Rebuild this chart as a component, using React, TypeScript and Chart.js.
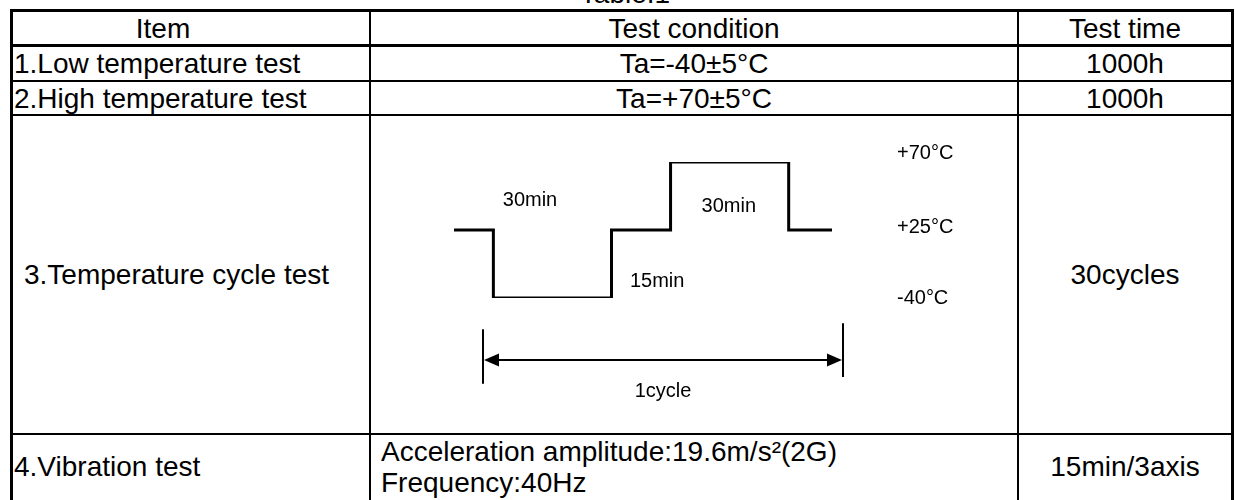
import React, { useEffect, useRef } from "react";
import { Chart, registerables } from "chart.js";

Chart.register(...registerables);

// ---------------- table content ----------------
const tableTitle = "Table.1";
const headers = ["Item", "Test condition", "Test time"];
const items = [
  "1.Low temperature test",
  "2.High temperature test",
  "3.Temperature cycle test",
  "4.Vibration test",
];
const conditions = [
  "Ta=-40±5°C",
  "Ta=+70±5°C",
  "",
  "Acceleration amplitude:19.6m/s²(2G)\nFrequency:40Hz",
];
const testTimes = ["1000h", "1000h", "30cycles", "15min/3axis"];

// ---------------- temperature cycle diagram data ----------------
const tempLevels = [-40, 25, 70]; // °C, drawn as evenly spaced levels
const tempLabels = ["-40°C", "+25°C", "+70°C"];
const tempLabelLevels = [-0.01, 1.04, 2.12];
const tempLabelTime = 102.5;
const stepTimes = [-10, 0, 30, 45, 75, 86]; // minutes: temperature changes to stepTemps[i] at stepTimes[i]
const stepTemps = [25, -40, 25, 70, 25, 25]; // °C
const durationLabels = ["30min", "15min", "30min"];
const durationTimes = [9.3, 41.6, 59.8];
const durationLevels = [1.44, 0.25, 1.35];
const cycleLabel = "1cycle";
const cycleTimes = [-2.6, 88.8];
const cycleTickTops = [-0.46, -0.37];
const cycleTickBottoms = [-1.26, -1.16];
const cycleArrowLevel = -0.91;
const cycleLabelTime = 43.1;
const cycleLabelLevel = -1.38;

const FONT = "'Liberation Sans', Arial, Helvetica, sans-serif";

// ---------------- layout ----------------
const colX = [13, 371, 1019, 1231]; // inner left edges of columns / right edge
const rowY = [12, 47, 82, 116, 435, 500]; // inner tops of rows
const itemIndent = [1, 1, 11, 1];

const annotationPlugin = {
  id: "cycleAnnotations",
  afterDatasetsDraw(chart: any) {
    const { ctx } = chart;
    const x = chart.scales.x;
    const y = chart.scales.y;
    ctx.save();
    ctx.fillStyle = "#000";
    ctx.strokeStyle = "#000";
    ctx.font = `20px ${FONT}`;
    ctx.textBaseline = "middle";

    ctx.textAlign = "left";
    tempLabels.forEach((label, i) => {
      ctx.fillText(label, x.getPixelForValue(tempLabelTime), y.getPixelForValue(tempLabelLevels[i]));
    });

    ctx.textAlign = "center";
    durationLabels.forEach((label, i) => {
      ctx.fillText(label, x.getPixelForValue(durationTimes[i]), y.getPixelForValue(durationLevels[i]));
    });
    ctx.fillText(cycleLabel, x.getPixelForValue(cycleLabelTime), y.getPixelForValue(cycleLabelLevel));

    // cycle boundary ticks
    ctx.lineWidth = 2;
    ctx.beginPath();
    cycleTimes.forEach((t, i) => {
      const px = Math.round(x.getPixelForValue(t));
      ctx.moveTo(px, y.getPixelForValue(cycleTickTops[i]));
      ctx.lineTo(px, y.getPixelForValue(cycleTickBottoms[i]));
    });
    ctx.stroke();

    // double-headed arrow
    const xs = Math.round(x.getPixelForValue(cycleTimes[0])) + 1;
    const xe = Math.round(x.getPixelForValue(cycleTimes[1])) - 1;
    const ay = Math.round(y.getPixelForValue(cycleArrowLevel));
    const headLen = 15;
    const headHalf = 6.5;
    ctx.beginPath();
    ctx.moveTo(xs + headLen - 1, ay);
    ctx.lineTo(xe - headLen + 1, ay);
    ctx.stroke();
    ctx.beginPath();
    ctx.moveTo(xs, ay);
    ctx.lineTo(xs + headLen, ay - headHalf);
    ctx.lineTo(xs + headLen, ay + headHalf);
    ctx.closePath();
    ctx.fill();
    ctx.beginPath();
    ctx.moveTo(xe, ay);
    ctx.lineTo(xe - headLen, ay - headHalf);
    ctx.lineTo(xe - headLen, ay + headHalf);
    ctx.closePath();
    ctx.fill();
    ctx.restore();
  },
};

const CANVAS_W = colX[2] - 2 - colX[1];
const CANVAS_H = rowY[4] - 2 - rowY[3];

function CycleChart() {
  const ref = useRef<HTMLCanvasElement | null>(null);
  useEffect(() => {
    if (!ref.current) return;
    const chart = new Chart(ref.current, {
      type: "line",
      data: {
        datasets: [
          {
            data: stepTimes.map((t, i) => ({ x: t, y: tempLevels.indexOf(stepTemps[i]) })),
            stepped: "before",
            borderColor: "#000",
            borderWidth: 3,
            borderJoinStyle: "miter",
            borderCapStyle: "butt",
            pointRadius: 0,
            fill: false,
            tension: 0,
          } as any,
        ],
      },
      options: {
        animation: false,
        responsive: false,
        events: [],
        layout: { autoPadding: false, padding: { left: 83, right: 185, top: 46, bottom: 135 } },
        plugins: { legend: { display: false }, tooltip: { enabled: false }, title: { display: false } },
        scales: {
          x: { type: "linear", min: -10, max: 86, display: false },
          y: { type: "linear", min: 0, max: 2, display: false },
        },
      },
      plugins: [annotationPlugin],
    });
    return () => chart.destroy();
  }, []);
  return (
    <canvas
      ref={ref}
      width={CANVAS_W}
      height={CANVAS_H}
      style={{ position: "absolute", left: colX[1], top: rowY[3], width: CANVAS_W, height: CANVAS_H }}
    />
  );
}

function Line({ l, t, w, h }: { l: number; t: number; w: number; h: number }) {
  return <div style={{ position: "absolute", left: l, top: t, width: w, height: h, background: "#000" }} />;
}

const textStyle = {
  fontFamily: FONT,
  fontSize: 28,
  color: "#000",
  whiteSpace: "pre-line" as const,
  lineHeight: "31px",
};

function Cell({ row, col, text, align, pad = 0 }: { row: number; col: number; text: string; align: "left" | "center"; pad?: number }) {
  const left = colX[col];
  const right = col === 0 ? colX[1] - 2 : col === 1 ? colX[2] - 2 : colX[3];
  const top = rowY[row];
  const bottom = rowY[row + 1] - (row === 0 ? 3 : 2);
  return (
    <div
      style={{
        position: "absolute",
        left,
        top,
        width: right - left,
        height: bottom - top,
        display: "flex",
        alignItems: "center",
        justifyContent: align === "center" ? "center" : "flex-start",
        paddingLeft: pad,
        boxSizing: "border-box",
        ...textStyle,
      }}
    >
      {text}
    </div>
  );
}

export default function App() {
  return (
    <div
      style={{
        position: "absolute",
        left: 0,
        top: 0,
        width: 1235,
        height: 500,
        overflow: "hidden",
        background: "#fff",
      }}
    >
      <div
        style={{
          position: "absolute",
          left: 525,
          top: -22,
          width: 200,
          textAlign: "center",
          ...textStyle,
          lineHeight: "32px",
        }}
      >
        {tableTitle}
      </div>

      {/* horizontal rules */}
      <Line l={10} t={9} w={1224} h={3} />
      <Line l={10} t={44} w={1224} h={3} />
      <Line l={10} t={80} w={1224} h={2} />
      <Line l={10} t={114} w={1224} h={2} />
      <Line l={10} t={433} w={1224} h={2} />
      {/* vertical rules */}
      <Line l={10} t={9} w={3} h={500} />
      <Line l={369} t={9} w={2} h={500} />
      <Line l={1017} t={9} w={2} h={500} />
      <Line l={1231} t={9} w={3} h={500} />

      {/* header: "Item" sits left of the column centre in the original */}
      <div
        style={{
          position: "absolute",
          left: 63,
          top: rowY[0],
          width: 200,
          height: rowY[1] - 3 - rowY[0],
          display: "flex",
          alignItems: "center",
          justifyContent: "center",
          ...textStyle,
        }}
      >
        {headers[0]}
      </div>
      <Cell row={0} col={1} text={headers[1]} align="center" />
      <Cell row={0} col={2} text={headers[2]} align="center" />

      {items.map((it, r) => (
        <Cell key={"i" + r} row={r + 1} col={0} text={it} align="left" pad={itemIndent[r]} />
      ))}
      {conditions.map((c, r) =>
        c ? (
          <Cell key={"c" + r} row={r + 1} col={1} text={c} align={r === 3 ? "left" : "center"} pad={r === 3 ? 10 : 0} />
        ) : null
      )}
      {testTimes.map((t, r) => (
        <Cell key={"t" + r} row={r + 1} col={2} text={t} align="center" />
      ))}

      <CycleChart />
    </div>
  );
}
